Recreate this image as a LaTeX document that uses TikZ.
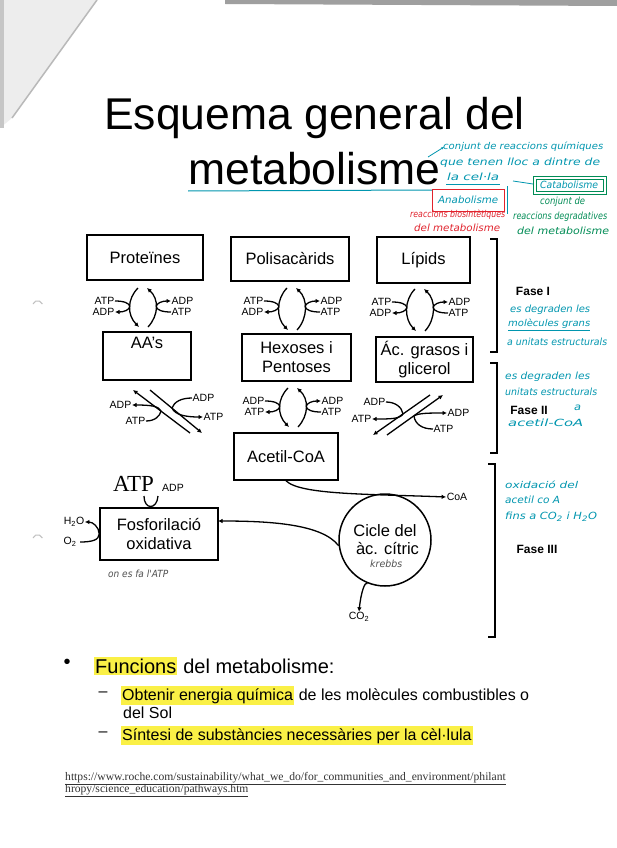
\documentclass[tikz,border=0pt]{standalone}
\usepackage{fontspec}
\usepackage{graphicx}
\setmainfont{Liberation Sans}
\newfontfamily\serifnm{Liberation Serif}
\newfontfamily\handf{DejaVu Sans}
\usetikzlibrary{arrows.meta}
\definecolor{tealh}{RGB}{0,150,175}
\definecolor{greenh}{RGB}{0,140,85}
\definecolor{redh}{RGB}{225,35,45}
\definecolor{hl}{RGB}{250,240,70}
\definecolor{pencil}{RGB}{80,80,80}
\newcommand\hw[2]{\resizebox{#1pt}{7.5pt}{\handf\itshape\fontsize{8}{9}\selectfont\vphantom{Ald}#2}}
\tikzset{
  box/.style={draw, line width=1.5pt, inner sep=0pt, align=center, font=\fontsize{16.5}{19}\selectfont},
  lbl/.style={font=\fontsize{10.5}{11}\selectfont, inner sep=0.5pt},
  ar/.style={line width=1.3pt, -{Latex[length=4.5pt,width=4.5pt]}},
  ln/.style={line width=1.3pt},
  hand/.style={inner sep=0pt, anchor=west},
  fase/.style={font=\bfseries\fontsize{12}{13}\selectfont, inner sep=0pt},
  bracket/.style={line width=1.5pt},
  hlbox/.style={fill=hl, inner xsep=1pt, inner ysep=2pt},
}
\newcommand\arcgrp[8]{%
\begin{scope}[shift={(#2,#3)}]
 \draw[ar] (-5,1) .. controls (-16,12) and (-16,#4-12) .. (-4,#4);
 \draw[ar] (5,#4) .. controls (16,#4-12) and (16,12) .. (4,1);
 \node[lbl,anchor=east] (#1lt) at (-28,14) {#5};
 \node[lbl,anchor=east] (#1lb) at (-28,25) {#6};
 \node[lbl,anchor=west] (#1rt) at (28,14) {#7};
 \node[lbl,anchor=west] (#1rb) at (28,25) {#8};
 \coordinate (#1tl) at (-13,19.5);
 \coordinate (#1tr) at (13,19.5);
 \draw[ln] (#1lt.east) .. controls (-19,14) and (-14,16) .. (#1tl);
 \draw[ar] (#1tl) .. controls (-14,23) and (-19,25) .. (#1lb.east);
 \draw[ar] (#1tr) .. controls (14,16) and (19,14) .. (#1rt.west);
 \draw[ln] (#1rb.west) .. controls (19,25) and (14,23) .. (#1tr);
\end{scope}}
\begin{document}
\begin{tikzpicture}[x=1pt,y=-1pt]
\useasboundingbox (0,0) rectangle (617,848);
\fill[white] (0,0) rectangle (617,848);
% scan edges / page fold
\fill[gray!75] (225,0) -- (617,0) -- (617,6) -- (225,4) -- cycle;
\fill[gray!14] (0,0) -- (97,0) -- (12,118) -- (0,128) -- cycle;
\draw[gray!55, line width=1.5pt] (97,0) -- (12,118);
\fill[gray!45] (0,0) rectangle (4,128);
\draw[gray!50, line width=1pt] (33,304) arc[start angle=200, end angle=340, radius=5];
\draw[gray!50, line width=1pt] (33,538) arc[start angle=200, end angle=340, radius=5];

% title
\node[anchor=base west, inner sep=0, font=\fontsize{44.5}{50}\selectfont] (t1) at (104,129) {Esquema general del};
\node[anchor=base west, inner sep=0, font=\fontsize{44.5}{50}\selectfont] (t2) at (188,184) {metabolisme};
\draw[tealh, line width=1pt] (188,191) -- (432,190);

% top boxes
\node[box, minimum width=116pt, minimum height=45pt] (prot) at (145,257.5) {Proteïnes};
\node[box, minimum width=118pt, minimum height=44pt] (polis) at (290,259) {Polisacàrids};
\node[box, minimum width=93pt, minimum height=46pt] (lip) at (423.5,260) {Lípids};
% middle boxes
\node[box, minimum width=88pt, minimum height=48pt] (aa) at (147,356) {};
\node[inner sep=0, font=\fontsize{16.5}{19}\selectfont] (aatxt) at (147,343) {AA's};
\node[box, minimum width=109pt, minimum height=47pt] (hex) at (296.5,357.5) {Hexoses i\\Pentoses};
\node[box, minimum width=97pt, minimum height=45pt] (acg) at (424.5,359.5) {Ác. grasos i\\glicerol};
\node[box, minimum width=104pt, minimum height=47pt] (acoa) at (286,456.5) {Acetil-CoA};

% ATP/ADP arc groups
\arcgrp{ga}{143}{287}{40}{ATP}{ADP}{ADP}{ATP}
\arcgrp{gb}{292}{287}{43}{ATP}{ADP}{ADP}{ATP}
\arcgrp{gc}{420}{288}{43}{ATP}{ADP}{ADP}{ATP}
\arcgrp{gd}{293}{387}{40}{ADP}{ATP}{ADP}{ATP}

% diagonal group left (AA's -> Acetil-CoA)
\coordinate (la1) at (190,433); \coordinate (la2) at (133,390);
\coordinate (lb1) at (150,390); \coordinate (lb2) at (202,433);
\draw[ar] (la1) -- (la2);
\draw[ar] (lb1) -- (lb2);
\node[lbl,anchor=east] (elt) at (132,405) {ADP};
\node[lbl,anchor=east] (elb) at (146,421) {ATP};
\node[lbl,anchor=west] (ert) at (192,398) {ADP};
\node[lbl,anchor=west] (erb) at (203,417) {ATP};
\coordinate (et1) at (161,411); \coordinate (et2) at (172,408);
\draw[ln] (elb.east) .. controls (155,421) and (160,416) .. (et1);
\draw[ar] (et1) .. controls (159,406) and (150,405) .. (elt.east);
\draw[ln] (ert.west) .. controls (181,398) and (174,402) .. (et2);
\draw[ar] (et2) .. controls (175,415) and (186,417) .. (erb.west);

% diagonal group right (Ac. grasos -> Acetil-CoA)
\coordinate (ra1) at (430,395); \coordinate (ra2) at (373,435);
\coordinate (rb1) at (387,435); \coordinate (rb2) at (443,395);
\draw[ar] (ra1) -- (ra2);
\draw[ar] (rb1) -- (rb2);
\node[lbl,anchor=east] (flt) at (386,402) {ADP};
\node[lbl,anchor=east] (flb) at (372,419) {ATP};
\node[lbl,anchor=west] (frt) at (447,413) {ADP};
\node[lbl,anchor=west] (frb) at (433,429) {ATP};
\coordinate (ft1) at (403,414); \coordinate (ft2) at (414,416);
\draw[ln] (flt.east) .. controls (395,402) and (402,407) .. (ft1);
\draw[ar] (ft1) .. controls (400,419) and (390,419) .. (flb.east);
\draw[ln] (frb.west) .. controls (422,429) and (415,424) .. (ft2);
\draw[ar] (ft2) .. controls (418,413) and (430,413) .. (frt.west);

% lower part
\node[box, minimum width=118pt, minimum height=52pt] (fos) at (159,534) {Fosforilació\\oxidativa};
\node[draw, circle, line width=1.5pt, minimum size=92pt, inner sep=0, align=center, font=\fontsize{16.5}{18}\selectfont] (krebs) at (385,540) {Cicle del\\\hspace*{5pt}àc. cítric};
\node[lbl] (coa) at (457,497) {CoA};
\draw[ar] (acoa.south) .. controls (300,495) and (370,494) .. (coa.west);
\coordinate (fosin) at (218,521);
\draw[ar] (krebs.187) .. controls (322,524) and (270,521) .. (fosin);
\node[lbl] (co2) at (359,617) {CO\textsubscript{2}};
\draw[ar] (krebs.248) .. controls (365,581) and (361,592) .. (co2.north);

\node[inner sep=0, font=\serifnm\fontsize{23}{23}\selectfont] (atpb) at (133.5,484) {ATP};
\node[lbl] (adps) at (173,488) {ADP};
\coordinate (hk1) at (144,496); \coordinate (hk2) at (158,496);
\draw[ln] (hk1) .. controls (144,510) and (157,510) .. (hk2);
\node[lbl] (h2o) at (74,522) {H\textsubscript{2}O};
\node[lbl] (o2) at (70,542) {O\textsubscript{2}};
\draw[ln, shorten <=3pt] (o2.east) .. controls (92,542) and (99,540) .. (fos.west);
\draw[ar] (fos.west) .. controls (99,527) and (93,522) .. (h2o.east);

\node[hand, text=pencil] (onesfa) at (108,574) {\hw{60}{on es fa l'ATP}};
\node[hand, text=pencil] (krb) at (370,564) {\hw{32}{krebbs}};

% phase brackets
\draw[bracket] (490,239) -- (497,239) -- (497,352) -- (490,352);
\draw[bracket] (490,363) -- (497,363) -- (497,453) -- (490,453);
\draw[bracket] (488,464) -- (495,464) -- (495,637) -- (488,637);
\node[fase] (f1) at (533,291) {Fase I};
\node[fase] (f2) at (529,410) {Fase II};
\node[fase] (f3) at (537,549) {Fase III};

% handwritten notes
\draw[tealh, line width=0.8pt, -{Stealth[length=3pt]}] (428,157) -- (444,147);
\node[hand, text=tealh] (n1) at (443,147) {\hw{160}{conjunt de reaccions químiques}};
\node[hand, text=tealh] (n2) at (440,163) {\hw{160}{que tenen lloc a dintre de}};
\node[hand, text=tealh] (n3) at (447,177) {\hw{52}{la cel·la}};
\draw[tealh, line width=0.8pt] (446,184) -- (500,184);
\draw[redh, line width=1pt] (432,189) rectangle (504,211);
\draw[tealh, line width=0.8pt] (507,186) -- (507,214);
\node[hand, text=tealh] (ana) at (438,200) {\hw{60}{Anabolisme}};
\draw[tealh, line width=0.8pt] (513,181) -- (533,184);
\draw[greenh, line width=0.9pt] (533,176) rectangle (606,194);
\draw[greenh, line width=0.7pt] (536,179) rectangle (603,191);
\node[hand, text=tealh] (cata) at (540,185) {\hw{58}{Catabolisme}};
\node[hand, text=greenh] (g1) at (540,202) {\hw{45}{conjunt de}};
\node[hand, text=greenh] (g2) at (513,217) {\hw{94}{reaccions degradatives}};
\node[hand, text=greenh] (g3) at (517,231) {\hw{92}{del metabolisme}};
\node[hand, text=redh] (r1) at (410,215) {\hw{95}{reaccions biosintètiques}};
\node[hand, text=redh] (r2) at (414,228) {\hw{86}{del metabolisme}};

\node[hand, text=tealh] (p1a) at (510,310) {\hw{80}{es degraden les}};
\node[hand, text=tealh] (p1b) at (508,324) {\hw{82}{molècules grans}};
\draw[tealh, line width=0.8pt] (508,330) -- (590,330);
\node[hand, text=tealh] (p1c) at (507,342) {\hw{100}{a unitats estructurals}};
\node[hand, text=tealh] (p2a) at (505,377) {\hw{85}{es degraden les}};
\node[hand, text=tealh] (p2b) at (505,392) {\hw{92}{unitats estructurals}};
\node[hand, text=tealh] (p2c) at (574,407) {\hw{7}{a}};
\node[hand, text=tealh] (p2d) at (508,423) {\hw{75}{acetil-CoA}};
\node[hand, text=tealh] (p3a) at (505,485) {\hw{73}{oxidació del}};
\node[hand, text=tealh] (p3b) at (505,500) {\hw{55}{acetil co A}};
\node[hand, text=tealh] (p3c) at (505,517) {\hw{92}{fins a CO\textsubscript{2} i H\textsubscript{2}O}};

% bullets
\node[inner sep=0, font=\fontsize{20}{22}\selectfont] (bul) at (67,664) {•};
\node[hlbox, anchor=base west, font=\fontsize{20}{22}\selectfont] (fun) at (94,673) {Funcions};
\node[anchor=base west, inner sep=0, font=\fontsize{20}{22}\selectfont] (fun2) at (fun.base east) {\ del metabolisme:};
\node[inner sep=0, font=\fontsize{16}{18}\selectfont] (d1) at (103,694) {–};
\node[hlbox, anchor=base west, font=\fontsize{16}{18}\selectfont] (obt) at (121,700) {Obtenir energia química};
\node[anchor=base west, inner sep=0, font=\fontsize{16}{18}\selectfont] (obt2) at (obt.base east) {\ de les molècules combustibles o};
\node[anchor=base west, inner sep=0, font=\fontsize{16}{18}\selectfont] (obt3) at (123,718) {del Sol};
\node[inner sep=0, font=\fontsize{16}{18}\selectfont] (d2) at (103,734) {–};
\node[hlbox, anchor=base west, font=\fontsize{16}{18}\selectfont] (sin) at (121,740) {Síntesi de substàncies necessàries per la cèl·lula};

% url
\node[anchor=base west, inner sep=0, text=black!80, font=\serifnm\fontsize{11.6}{12}\selectfont] (u1) at (65,780) {\underline{https://www.roche.com/sustainability/what\_we\_do/for\_communities\_and\_environment/philant}};
\node[anchor=base west, inner sep=0, text=black!80, font=\serifnm\fontsize{11.6}{12}\selectfont] (u2) at (65,792) {\underline{hropy/science\_education/pathways.htm}};
\end{tikzpicture}
\end{document}
